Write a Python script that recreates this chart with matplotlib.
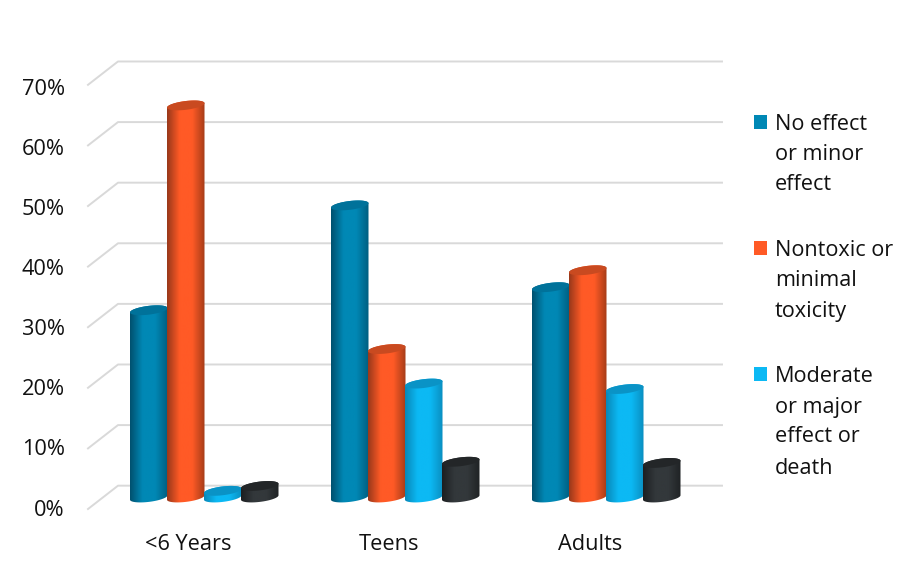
import numpy as np
import matplotlib
matplotlib.use('Agg')
import matplotlib.pyplot as plt
from matplotlib.patches import Polygon, Rectangle
from matplotlib.colors import LinearSegmentedColormap

plt.rcParams['font.family'] = ['Open Sans', 'DejaVu Sans']

# Data
groups = ['<6 Years', 'Teens', 'Adults']
no_effect = [30.9, 48.2, 34.7]
nontoxic = [64.7, 24.5, 37.5]
moderate = [1.1, 18.8, 17.9]
dark_series = [1.9, 5.9, 5.7]
ticks = [0, 10, 20, 30, 40, 50, 60, 70]
tick_labels = ['0%', '10%', '20%', '30%', '40%', '50%', '60%', '70%']
legend_lines = [['No effect', 'or minor', 'effect'],
                ['Nontoxic or', 'minimal', 'toxicity'],
                ['Moderate', 'or major', 'effect or', 'death']]

# Layout
W, H = 912, 587
BASE = 497.5  # pixel row of value 0 at the bar centres
PX = 6.06     # pixels per percent
group_left = [130, 331, 532]
bar_w = 37.5
step = 37.0
cap_b, cap_tilt = 4.4, 2.2

series = [no_effect, nontoxic, moderate, dark_series]
shades = [('#00506e', '#0088b5', '#005e80', '#00729a'),
          ('#98381a', '#ff5a26', '#a53c18', '#c94a20'),
          ('#0888b8', '#0cb9f4', '#0a8ec0', '#0a93c6'),
          ('#1c1f21', '#33383b', '#1f2224', '#232628')]
legend_colors = ['#0088b5', '#ff5a26', '#0cb9f4']

fig = plt.figure(figsize=(W / 100, H / 100), dpi=100)
ax = fig.add_axes([0, 0, 1, 1])
ax.axis('off')


def arc(cx, v, t):
    # tilted ellipse of a bar end
    x = cx + bar_w / 2 * np.cos(t)
    y = v + (cap_b * np.sin(t) + cap_tilt * np.cos(t)) / PX
    return x, y


# walls and grid
for v, label in zip(ticks, tick_labels):
    ax.plot([88, 118, 722], [v - 1.9, v + 1.95, v + 1.95], color='#d9d9d9', lw=1.4, zorder=1)
    y_label = (BASE - (510 - v * 6.01)) / PX
    ax.text(65, y_label, label, ha='right', va='center', fontsize=15.7, color='#111111')

# bars
z = 2
for g, left in enumerate(group_left):
    for s, vals in enumerate(series):
        v = vals[g]
        cx = left + bar_w / 2 + s * step
        c_left, c_mid, c_right, c_top = shades[s]
        cmap = LinearSegmentedColormap.from_list('b', [c_left, c_mid, c_mid, c_right], N=128)
        low_x, low_y = arc(cx, 0, np.linspace(np.pi, 2 * np.pi, 40))
        up_x, up_y = arc(cx, v, np.linspace(0, np.pi, 40))
        body = Polygon(np.column_stack([np.r_[low_x, up_x], np.r_[low_y, up_y]]),
                       closed=True, fc='none', ec='none', zorder=z)
        ax.add_patch(body)
        grad = np.linspace(0, 1, 128).reshape(1, -1)
        im = ax.imshow(grad, extent=[cx - bar_w / 2, cx + bar_w / 2, -2, v + 2], aspect='auto',
                       cmap=cmap, zorder=z, interpolation='bilinear')
        im.set_clip_path(body)
        top_x, top_y = arc(cx, v, np.linspace(0, 2 * np.pi, 80))
        ax.add_patch(Polygon(np.column_stack([top_x, top_y]), closed=True, fc=c_top, ec='none', zorder=z + 0.5))
        z += 1

# category labels
for left, name in zip(group_left, groups):
    ax.text(left + 58.5, (BASE - 544) / PX, name, ha='center', va='center',
            fontsize=15.7, color='#111111')

# legend
line_y = [[124, 154, 185], [250, 280, 311], [376, 407, 437, 468]]
for lines, ys, col in zip(legend_lines, line_y, legend_colors):
    ax.add_patch(Rectangle((754, (BASE - ys[0] + 2 - 6.5) / PX), 13.5, 13.5 / PX, fc=col, ec='none', zorder=50))
    for txt, y in zip(lines, ys):
        ax.text(775, (BASE - y) / PX, txt, ha='left', va='center', fontsize=15.6, color='#111111')

ax.set_xlim(0, W)
ax.set_ylim((BASE - H) / PX, BASE / PX)

fig.savefig('out.png', dpi=100, facecolor='white')
